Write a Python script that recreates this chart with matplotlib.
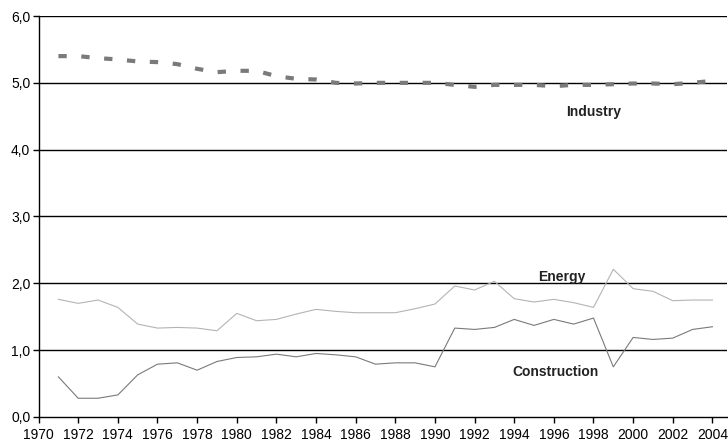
import matplotlib
matplotlib.use("Agg")
import matplotlib.pyplot as plt
from matplotlib.ticker import FuncFormatter, MultipleLocator

years = list(range(1971, 2005))

industry = [5.40, 5.40, 5.37, 5.35, 5.32, 5.31, 5.28, 5.21, 5.16, 5.18,
            5.18, 5.10, 5.06, 5.05, 5.00, 4.99, 5.00, 5.00, 5.00, 5.00,
            4.97, 4.94, 4.97, 4.97, 4.97, 4.95, 4.97, 4.97, 4.98, 4.99,
            4.99, 4.98, 5.00, 5.03]

energy = [1.76, 1.70, 1.75, 1.64, 1.39, 1.33, 1.34, 1.33, 1.29, 1.55,
          1.44, 1.46, 1.54, 1.61, 1.58, 1.56, 1.56, 1.56, 1.62, 1.69,
          1.96, 1.90, 2.03, 1.77, 1.72, 1.76, 1.71, 1.64, 2.21, 1.92,
          1.88, 1.74, 1.75, 1.75]

construction = [0.60, 0.28, 0.28, 0.33, 0.63, 0.79, 0.81, 0.70, 0.83, 0.89,
                0.90, 0.94, 0.90, 0.95, 0.93, 0.90, 0.79, 0.81, 0.81, 0.75,
                1.33, 1.31, 1.34, 1.46, 1.37, 1.46, 1.39, 1.48, 0.75, 1.19,
                1.16, 1.18, 1.31, 1.35]

labels = [("Industry", 1998.0, 4.57), ("Energy", 1996.4, 2.10),
          ("Construction", 1996.1, 0.67)]

plt.rcParams["font.family"] = ["Liberation Sans", "DejaVu Sans"]

fig = plt.figure(figsize=(7.28, 4.45), dpi=100)
ax = fig.add_axes([0.053, 0.063, 0.946, 0.901])

for y in [1, 2, 3, 4, 5, 6]:
    ax.axhline(y, color="black", lw=1.0, zorder=1)

ax.plot(years, energy, color="#b4b4b4", lw=0.8, zorder=2)
ax.plot(years, construction, color="#7a7a7a", lw=0.8, zorder=2)
ax.plot(years, industry, color="#7a7a7a", lw=3, linestyle=(0, (2, 3.5)),
        dash_capstyle="butt", zorder=3)

for text, x, y in labels:
    ax.text(x, y, text, ha="center", va="center", fontsize=10,
            fontweight="bold", color="#222222")

ax.set_xlim(1970, 2004.75)
ax.set_ylim(0, 6)
ax.xaxis.set_major_locator(MultipleLocator(2))
ax.yaxis.set_major_locator(MultipleLocator(1))
ax.yaxis.set_major_formatter(FuncFormatter(lambda v, p: f"{v:.1f}".replace(".", ",")))

for side in ["top", "right"]:
    ax.spines[side].set_visible(False)
for side in ["left", "bottom"]:
    ax.spines[side].set_color("black")
    ax.spines[side].set_linewidth(1.0)

ax.tick_params(axis="both", direction="out", length=4, width=1,
               labelsize=10, colors="black", pad=2)
ax.tick_params(axis="x", pad=4)

fig.savefig("out.png", dpi=100)
